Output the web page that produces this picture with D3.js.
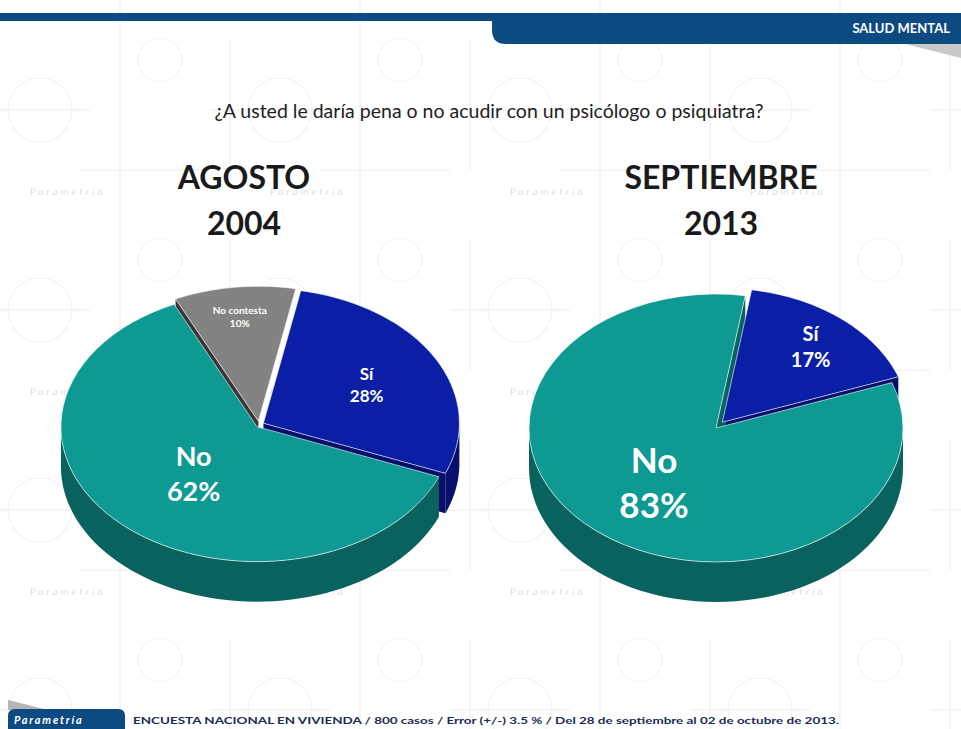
<!DOCTYPE html>
<html>
<head>
<meta charset="utf-8">
<script src="https://cdn.jsdelivr.net/npm/d3@7"></script>
<style>
  body { margin: 0; background: #fff; }
  svg { display: block; font-family: Lato, "Open Sans", sans-serif; }
</style>
</head>
<body>
<svg id="chart" width="961" height="729"></svg>
<script>
// data
const question = "¿A usted le daría pena o no acudir con un psicólogo o psiquiatra?";
const categories2004 = ["Sí", "No", "No contesta"];
const values2004 = [28, 62, 10];
const categories2013 = ["Sí", "No"];
const values2013 = [17, 83];
const periods = [["AGOSTO", "2004"], ["SEPTIEMBRE", "2013"]];
const sectionLabel = "SALUD MENTAL";
const footnote = "ENCUESTA  NACIONAL EN VIVIENDA  / 800 casos / Error (+/-)  3.5 % / Del 28 de septiembre al 02 de octubre de 2013.";

const colors = {
  "Sí": { top: "#0b1fa6", side: "#06106a" },
  "No": { top: "#0e9993", side: "#0a625f" },
  "No contesta": { top: "#838383", side: "#3b3434" }
};

const svg = d3.select("#chart");
const rad = deg => deg * Math.PI / 180;

// faint background watermark
const defs = svg.append("defs");
const pat = defs.append("pattern")
  .attr("id", "wm").attr("patternUnits", "userSpaceOnUse")
  .attr("width", 240).attr("height", 200).attr("x", -30).attr("y", 20);
pat.append("path").attr("d", "M20,20V150M0,90H120M150,0V200M110,150H240")
  .attr("stroke", "#ececec").attr("fill", "none");
pat.append("circle").attr("cx", 70).attr("cy", 90).attr("r", 32)
  .attr("stroke", "#efefef").attr("fill", "none");
pat.append("circle").attr("cx", 190).attr("cy", 40).attr("r", 22)
  .attr("stroke", "#f1f1f1").attr("fill", "none");
pat.append("text").attr("x", 60).attr("y", 175).text("Parametría")
  .attr("font-size", 10).attr("font-style", "italic").attr("letter-spacing", 3)
  .attr("fill", "#e0e0e0");
svg.append("rect").attr("width", 961).attr("height", 729).attr("fill", "url(#wm)");

// header band
svg.append("rect").attr("x", 0).attr("y", 13).attr("width", 520).attr("height", 8).attr("fill", "#0d4a82");
svg.append("path")
  .attr("d", "M492,13H961V44H506Q492,44 492,30Z")
  .attr("fill", "#0d4a82");
svg.append("path").attr("d", "M905,44H961V58Z").attr("fill", "#c9c9c9");
svg.append("text")
  .attr("x", 950).attr("y", 33).attr("text-anchor", "end")
  .attr("fill", "#fff").attr("font-weight", "bold").attr("font-size", 13)
  .text(sectionLabel);

// question
svg.append("text")
  .attr("x", 489).attr("y", 118).attr("text-anchor", "middle")
  .attr("font-size", 19.5).attr("fill", "#222")
  .text(question);

// period titles
const titleX = [244, 721];
periods.forEach((p, i) => {
  svg.append("text").attr("x", titleX[i]).attr("y", 189).attr("text-anchor", "middle")
    .attr("font-size", 32).attr("font-weight", "bold").attr("fill", "#1a1a1a").text(p[0]);
  svg.append("text").attr("x", titleX[i]).attr("y", 235).attr("text-anchor", "middle")
    .attr("font-size", 32).attr("font-weight", "bold").attr("fill", "#1a1a1a").text(p[1]);
});

// 3D pie
function pie3d(cfg) {
  const data = cfg.categories.map((c, i) => ({ cat: c, value: cfg.values[i] }));
  const arcs = d3.pie().sort(null).value(d => d.value)
    .startAngle(rad(cfg.start)).endAngle(rad(cfg.start) + 2 * Math.PI)(data);
  const g = svg.append("g");
  const line = d3.line();
  const hideEnd = cfg.hideEndWall || [];

  arcs.forEach(a => {
    const mid = (a.startAngle + a.endAngle) / 2;
    const ex = cfg.explode[a.data.cat] || 0;
    a.ox = ex * Math.sin(mid);
    a.oy = -ex * Math.cos(mid) * 0.75;
  });

  const pt = (a, ang, r, dz) => [
    cfg.cx + a.ox + cfg.rx * r * Math.sin(ang),
    cfg.cy + a.oy - cfg.ry * r * Math.cos(ang) + dz
  ];
  const arcPts = (a, s, e, dz) => d3.range(0, 61).map(k => pt(a, s + (e - s) * k / 60, 1, dz));

  const walls = [];
  arcs.forEach(a => {
    const c = colors[a.data.cat];
    // radial walls
    if (Math.sin(a.startAngle) < 0) {
      walls.push({ y: 0, fill: c.side, pts: [pt(a, 0, 0, 0), pt(a, a.startAngle, 1, 0), pt(a, a.startAngle, 1, cfg.depth), pt(a, 0, 0, cfg.depth)] });
    }
    if (Math.sin(a.endAngle) > 0 && !hideEnd.includes(a.data.cat)) {
      walls.push({ y: 0, fill: c.side, pts: [pt(a, 0, 0, 0), pt(a, a.endAngle, 1, 0), pt(a, a.endAngle, 1, cfg.depth), pt(a, 0, 0, cfg.depth)] });
    }
    // outer wall, front half only
    for (let k = -1; k <= 1; k++) {
      const lo = Math.PI / 2 + k * 2 * Math.PI, hi = 3 * Math.PI / 2 + k * 2 * Math.PI;
      const s = Math.max(a.startAngle, lo), e = Math.min(a.endAngle, hi);
      if (e > s) {
        walls.push({ y: 1, fill: c.side, pts: arcPts(a, s, e, 0).concat(arcPts(a, s, e, cfg.depth).reverse()) });
      }
    }
  });
  walls.sort((p, q) => p.y - q.y).forEach(w => {
    g.append("path").attr("d", line(w.pts) + "Z").attr("fill", w.fill);
  });

  arcs.forEach(a => {
    const c = colors[a.data.cat];
    const pts = [pt(a, 0, 0, 0)].concat(arcPts(a, a.startAngle, a.endAngle, 0));
    g.append("path").attr("d", line(pts) + "Z").attr("fill", c.top)
      .attr("stroke", "#fff").attr("stroke-width", 0.6);
  });

  arcs.forEach(a => {
    const mid = (a.startAngle + a.endAngle) / 2;
    const lc = cfg.labels[a.data.cat];
    const p = pt(a, mid, lc.r, 0);
    const t = g.append("text").attr("text-anchor", "middle").attr("fill", "#fff")
      .attr("font-weight", "bold").attr("font-size", lc.size);
    t.append("tspan").attr("x", p[0]).attr("y", p[1] - lc.size * 0.25).text(a.data.cat);
    t.append("tspan").attr("x", p[0]).attr("y", p[1] + lc.size * 1.05).text(a.data.value + "%");
  });
}

pie3d({
  categories: categories2004, values: values2004,
  cx: 259, cy: 425, rx: 196, ry: 135, depth: 40, start: 11,
  explode: { "Sí": 5, "No contesta": 5, "No": 3 },
  hideEndWall: ["No contesta"],
  labels: {
    "Sí": { r: 0.6, size: 17 },
    "No": { r: 0.47, size: 27 },
    "No contesta": { r: 0.78, size: 10 }
  }
});

pie3d({
  categories: categories2013, values: values2013,
  cx: 716, cy: 428, rx: 187, ry: 134, depth: 40, start: 9,
  explode: { "Sí": 10 },
  labels: {
    "Sí": { r: 0.74, size: 20 },
    "No": { r: 0.52, size: 35 }
  }
});

// footer
svg.append("path").attr("d", "M8,700L48,710H8Z").attr("fill", "#b5b5b5");
svg.append("path").attr("d", "M8,729V716Q8,709 15,709H118Q125,709 125,716V729Z").attr("fill", "#0d4a82");
svg.append("text").attr("x", 14).attr("y", 724)
  .attr("fill", "#fff").attr("font-weight", "bold").attr("font-style", "italic")
  .attr("font-size", 11).attr("letter-spacing", 1.8).text("Parametría");
svg.append("text").attr("x", 133).attr("y", 724)
  .attr("fill", "#1c2a5a").attr("font-weight", "bold").attr("font-size", 9)
  .attr("textLength", 706).attr("lengthAdjust", "spacingAndGlyphs")
  .text(footnote);
</script>
</body>
</html>
